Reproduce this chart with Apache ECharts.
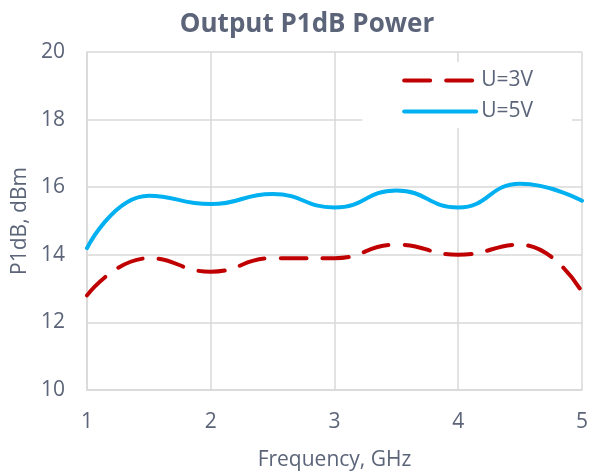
<!DOCTYPE html>
<html>
<head>
<meta charset="utf-8">
<script src="https://cdn.jsdelivr.net/npm/echarts@6/dist/echarts.min.js"></script>
<style>
  html, body { margin: 0; padding: 0; background: #fff; }
  #chart { width: 591px; height: 476px; }
</style>
</head>
<body>
<div id="chart"></div>
<script>
// frequency points, GHz
const freqs = [1, 1.5, 2, 2.5, 3, 3.5, 4, 4.5, 5]
// P1dB, dBm
const u3 = [12.8, 13.9, 13.5, 13.9, 13.9, 14.3, 14.0, 14.3, 12.9]
const u5 = [14.2, 15.75, 15.5, 15.8, 15.4, 15.9, 15.4, 16.1, 15.6]

const textColor = '#5b6478'
const gridColor = '#d9d9d9'

const pairs = (ys) => freqs.map((f, i) => [f, ys[i]])

const chart = echarts.init(document.getElementById('chart'))
chart.setOption({
  animation: false,
  textStyle: { fontFamily: 'Open Sans' },
  title: {
    text: 'Output P1dB Power',
    left: 302,
    textAlign: 'center',
    top: 7,
    textStyle: { color: textColor, fontSize: 26, fontWeight: 'bold', fontFamily: 'Open Sans' }
  },
  legend: {
    right: 19,
    top: 62,
    orient: 'vertical',
    backgroundColor: '#fff',
    padding: [8, 39, 6, 40],
    itemGap: 10,
    itemWidth: 72,
    itemHeight: 14,
    itemStyle: { opacity: 0 },
    lineStyle: { width: 4 },
    textStyle: { color: textColor, fontSize: 21, fontFamily: 'Open Sans' },
    data: ['U=3V', 'U=5V']
  },
  grid: { left: 87, right: 5, top: 52, bottom: 84 },
  xAxis: {
    type: 'value',
    min: 1,
    max: 5,
    interval: 1,
    name: 'Frequency, GHz',
    nameLocation: 'middle',
    nameGap: 60,
    nameTextStyle: { color: textColor, fontSize: 21 },
    axisLine: { show: true, lineStyle: { color: gridColor, width: 1.5 } },
    axisTick: { show: false },
    axisLabel: { color: textColor, fontSize: 21, margin: 22 },
    splitLine: { show: true, lineStyle: { color: gridColor, width: 1.5 } }
  },
  yAxis: {
    type: 'value',
    min: 10,
    max: 20,
    interval: 2,
    name: 'P1dB, dBm',
    nameLocation: 'middle',
    nameGap: 56,
    nameTextStyle: { color: textColor, fontSize: 21 },
    axisLine: { show: true, lineStyle: { color: gridColor, width: 1.5 } },
    axisTick: { show: false },
    axisLabel: { color: textColor, fontSize: 21, margin: 22 },
    splitLine: { show: true, lineStyle: { color: gridColor, width: 1.5 } }
  },
  series: [
    {
      name: 'U=3V',
      type: 'line',
      smooth: 0.5,
      symbol: 'none',
      data: pairs(u3),
      itemStyle: { color: '#c00000' },
      lineStyle: { color: '#c00000', width: 4, type: [26, 16], cap: 'round' },
      z: 3
    },
    {
      name: 'U=5V',
      type: 'line',
      smooth: 0.5,
      symbol: 'none',
      data: pairs(u5),
      itemStyle: { color: '#00b0f0' },
      lineStyle: { color: '#00b0f0', width: 4, cap: 'round' },
      z: 3
    }
  ]
})
</script>
</body>
</html>
